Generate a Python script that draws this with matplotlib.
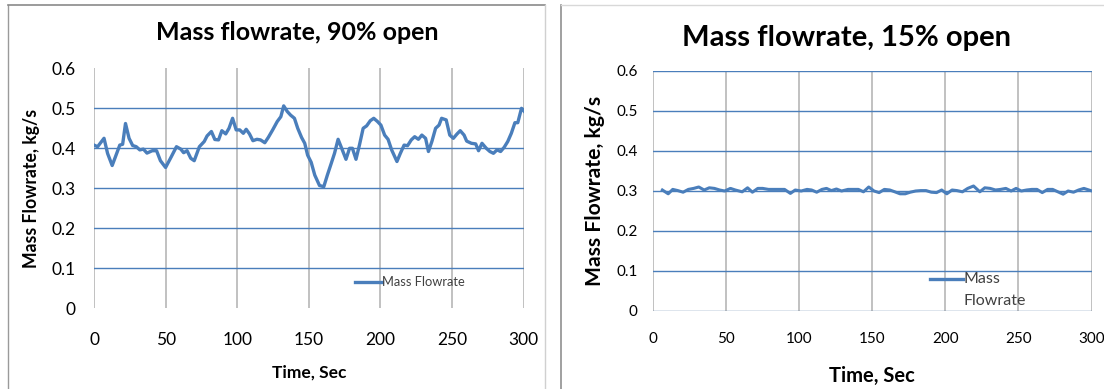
import matplotlib
matplotlib.use("Agg")
import matplotlib.pyplot as plt
from matplotlib.lines import Line2D

# ---------------- data ----------------
time_90 = [0, 2.5, 7, 9.5, 12.7, 15, 18, 20, 22, 24.5, 27, 29.5, 32, 34.5, 37, 40.7, 43.7,
           46.4, 50, 54, 57.6, 60.6, 62.6, 65, 67.6, 70, 73.6, 77, 79, 82, 84.4, 87, 89.3,
           92, 94.3, 96.8, 99.3, 101.8, 104.3, 106.3, 108.6, 111, 113.8, 116.3, 119.3,
           121.8, 124.8, 128, 130.5, 132.5, 135, 137.3, 140, 142.3, 145, 147.2, 149.2,
           151.7, 154.2, 157.5, 160.5, 163, 165.5, 168, 170.5, 173, 176, 178.5, 180.5,
           183, 185.4, 188, 190.4, 193, 195.4, 198, 200.4, 203, 205.4, 207.9, 211.6, 214,
           216.6, 219, 221.6, 224, 226.6, 229, 231.6, 233.6, 236, 238.6, 241, 242.8, 246,
           248.5, 251, 253.6, 255.8, 258.5, 260.3, 263.6, 266.6, 268.6, 271, 274, 276.5,
           279, 281.5, 284, 286.5, 289, 291.5, 294, 296, 298.6, 300.6]
flow_90 = [0.408, 0.404, 0.425, 0.387, 0.357, 0.379, 0.408, 0.410, 0.462, 0.425, 0.407,
           0.404, 0.396, 0.398, 0.388, 0.394, 0.394, 0.369, 0.352, 0.379, 0.404, 0.398,
           0.389, 0.394, 0.375, 0.369, 0.404, 0.417, 0.431, 0.442, 0.422, 0.421, 0.444,
           0.436, 0.450, 0.475, 0.446, 0.446, 0.4375, 0.4475, 0.436, 0.419, 0.4225, 0.421,
           0.414, 0.4275, 0.446, 0.467, 0.479, 0.506, 0.492, 0.483, 0.475, 0.450, 0.427,
           0.4125, 0.383, 0.365, 0.333, 0.307, 0.304, 0.333, 0.360, 0.3875, 0.4225, 0.400,
           0.3725, 0.400, 0.400, 0.3725, 0.408, 0.450, 0.456, 0.469, 0.475, 0.467, 0.458,
           0.433, 0.4225, 0.396, 0.367, 0.3875, 0.408, 0.4065, 0.421, 0.429, 0.4225, 0.433,
           0.425, 0.392, 0.417, 0.450, 0.458, 0.475, 0.471, 0.433, 0.425, 0.436, 0.444,
           0.433, 0.418, 0.4125, 0.411, 0.394, 0.4125, 0.400, 0.392, 0.3875, 0.396, 0.392,
           0.4025, 0.417, 0.4375, 0.464, 0.464, 0.500, 0.492]

time_15 = [6.4, 10.4, 13.5, 17, 20.6, 24.2, 27.8, 31.3, 35, 38.5, 42, 45.6, 49, 53, 56.3,
           61, 64.7, 68, 71.7, 75, 79, 82.4, 86, 90, 94, 97.3, 101.4, 105.4, 108.5, 112,
           115.6, 118.7, 122, 125.5, 129, 133.4, 137, 140.5, 144, 147.6, 151.2, 154.7,
           158.3, 162, 165.4, 169, 172.6, 176, 179.7, 183.2, 186.8, 190.4, 194, 197.5, 201,
           204.6, 208, 211.7, 215.3, 219.3, 223.6, 227, 230.7, 234.3, 237.8, 241.4, 245,
           248.4, 252, 255.6, 259.2, 262.7, 266.3, 270, 273.4, 277, 280.6, 284, 287.7,
           291.2, 294.8, 299.5]
flow_15 = [0.3025, 0.293, 0.304, 0.301, 0.297, 0.304, 0.3065, 0.310, 0.3025, 0.308, 0.3065,
           0.3025, 0.300, 0.3065, 0.3025, 0.298, 0.308, 0.297, 0.3065, 0.3065, 0.304, 0.304,
           0.304, 0.304, 0.294, 0.3025, 0.300, 0.304, 0.3025, 0.297, 0.304, 0.3065, 0.301,
           0.305, 0.300, 0.304, 0.304, 0.304, 0.298, 0.310, 0.300, 0.296, 0.304, 0.3025,
           0.298, 0.293, 0.293, 0.297, 0.300, 0.301, 0.301, 0.297, 0.296, 0.3025, 0.293,
           0.3025, 0.301, 0.298, 0.3065, 0.3125, 0.298, 0.308, 0.3065, 0.3025, 0.304,
           0.3065, 0.300, 0.3065, 0.300, 0.3025, 0.304, 0.304, 0.296, 0.304, 0.304, 0.298,
           0.292, 0.300, 0.297, 0.3025, 0.3065, 0.301]

x_ticks = [0, 50, 100, 150, 200, 250, 300]
y_ticks = [0, 0.1, 0.2, 0.3, 0.4, 0.5, 0.6]
y_tick_labels = ["0", "0.1", "0.2", "0.3", "0.4", "0.5", "0.6"]
titles = ["Mass flowrate, 90% open", "Mass flowrate, 15% open"]
x_label = "Time, Sec"
y_label = "Mass Flowrate, kg/s"
legend_labels = ["Mass Flowrate", "Mass\nFlowrate"]

# ---------------- style ----------------
W, H = 1104, 389
FONT = "Lato"
BLUE = "#4a7ebb"
GRID_GRAY = "#b0b0b0"
plt.rcParams["font.family"] = [FONT, "DejaVu Sans"]

fig = plt.figure(figsize=(W / 100, H / 100), dpi=100)
fig.patch.set_facecolor("white")


def fx(px):
    return px / W


def fy(py):
    return 1 - py / H


def add_axes(x0, y0, x1, y1):
    return fig.add_axes([fx(x0), fy(y1), fx(x1 - x0), (y1 - y0) / H])


# panel borders
fig.add_artist(Line2D([fx(7.5), fx(7.5)], [fy(5), 0], color="#9a9a9a", lw=1.0))
fig.add_artist(Line2D([fx(7.5), fx(545)], [fy(5), fy(5)], color="#8a8a8a", lw=1.2))
fig.add_artist(Line2D([fx(545), fx(545)], [fy(5), 0], color="#d0d0d0", lw=1.0))
fig.add_artist(Line2D([fx(561), fx(561)], [fy(5), 0], color="#909090", lw=1.2))
fig.add_artist(Line2D([fx(561), 1], [fy(5), fy(5)], color="#d8d8d8", lw=1.0))

# ---------------- left chart ----------------
axL = add_axes(94, 68.3, 523.5, 308.3)
axL.set_xlim(0, 300)
axL.set_ylim(0, 0.6)
for s in axL.spines.values():
    s.set_visible(False)
for x in x_ticks:
    axL.axvline(x, color=GRID_GRAY, lw=1.1, zorder=1)
for y in y_ticks[1:-1]:
    axL.axhline(y, color=BLUE, lw=1.0, zorder=1)
axL.plot(time_90, flow_90, color=BLUE, lw=2.4, zorder=3, solid_joinstyle="round")
axL.set_xticks(x_ticks)
axL.set_xticklabels([str(t) for t in x_ticks])
axL.set_yticks(y_ticks)
axL.set_yticklabels(y_tick_labels)
axL.tick_params(axis="both", length=0, labelsize=12.5, colors="black")
axL.tick_params(axis="y", pad=13)
axL.tick_params(axis="x", pad=17)

fig.text(fx(297), fy(33), titles[0], ha="center", va="center", fontsize=18,
         fontweight="bold")
fig.text(fx(309.5), fy(373), x_label, ha="center", va="center", fontsize=12.5,
         fontweight="bold")
fig.text(fx(32), fy(188), y_label, ha="center", va="center", fontsize=12.7,
         fontweight="bold", rotation=90)
fig.add_artist(Line2D([fx(355), fx(382)], [fy(282), fy(282)], color=BLUE, lw=2.4))
fig.text(fx(382.5), fy(282), legend_labels[0], ha="left", va="center", fontsize=9.3,
         color="#404040")

# ---------------- right chart ----------------
axR = add_axes(653, 71, 1091.5, 311)
axR.set_xlim(0, 300)
axR.set_ylim(0, 0.6)
for s in axR.spines.values():
    s.set_visible(False)
for x in x_ticks:
    axR.axvline(x, color=GRID_GRAY, lw=1.1, zorder=1)
for y in y_ticks:
    axR.axhline(y, color=BLUE if y > 0 else "#5a7fa8", lw=1.0, zorder=1)
axR.plot(time_15, flow_15, color=BLUE, lw=2.2, zorder=3, solid_joinstyle="round")
axR.set_xticks(x_ticks)
axR.set_xticklabels([str(t) for t in x_ticks])
axR.set_yticks(y_ticks)
axR.set_yticklabels(y_tick_labels)
axR.tick_params(axis="both", length=0, labelsize=11, colors="black")
axR.tick_params(axis="y", pad=11)
axR.tick_params(axis="x", pad=15)

fig.text(fx(846), fy(38), titles[1], ha="center", va="center", fontsize=21,
         fontweight="bold")
fig.text(fx(872), fy(376), x_label, ha="center", va="center", fontsize=14.5,
         fontweight="bold")
fig.text(fx(594.7), fy(191), y_label, ha="center", va="center", fontsize=15.2,
         fontweight="bold", rotation=90)
fig.add_artist(Line2D([fx(929.5), fx(962.5)], [fy(279), fy(279)], color=BLUE, lw=2.4))
fig.text(fx(963.5), fy(279), "Mass", ha="left", va="center", fontsize=11.5,
         color="#404040")
fig.text(fx(963.5), fy(301), "Flowrate", ha="left", va="center", fontsize=11.5,
         color="#404040")

fig.savefig("out.png", dpi=100, facecolor="white")
